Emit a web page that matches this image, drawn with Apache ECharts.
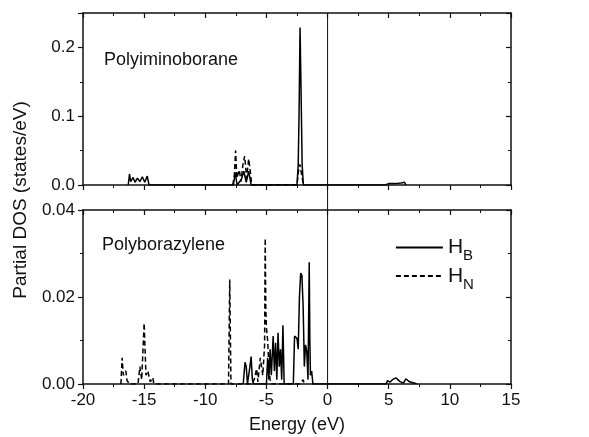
<!DOCTYPE html>
<html>
<head>
<meta charset="utf-8">
<script src="https://cdn.jsdelivr.net/npm/echarts@6/dist/echarts.min.js"></script>
<style>
  html, body { margin: 0; padding: 0; background: #fff; }
  #output { width: 589px; height: 437px; }
</style>
</head>
<body>
<div id="output"></div>
<script>
const chart = echarts.init(document.getElementById('output'));

// energy range (eV) and tick labels
const energyMin = -20
const energyMax = 15
const energyTicks = [-20, -15, -10, -5, 0, 5, 10, 15]

// Polyiminoborane, [energy, DOS]
const topHB = [
  [-16.3, 0], [-16.2, 0.016], [-16.1, 0.005], [-15.9, 0.011], [-15.75, 0.004],
  [-15.55, 0.01], [-15.35, 0.005], [-15.15, 0.012], [-14.95, 0.004], [-14.75, 0.013], [-14.6, 0],
  [-7.7, 0], [-7.55, 0.018], [-7.4, 0], [-7.05, 0.008], [-6.85, 0.02], [-6.65, 0.004],
  [-6.45, 0.02], [-6.25, 0],
  [-2.5, 0], [-2.4, 0.03], [-2.33, 0.105], [-2.25, 0.229], [-2.17, 0.14], [-2.08, 0.03], [-1.98, 0],
  [4.7, 0], [5.0, 0.002], [5.5, 0.002], [6.0, 0.003], [6.3, 0.004], [6.4, 0]
]
const topHN = [
  [-7.75, 0], [-7.62, 0.015], [-7.52, 0.05], [-7.42, 0.01], [-7.22, 0.022], [-7.08, 0.005],
  [-6.92, 0.03], [-6.78, 0.042], [-6.62, 0.01], [-6.45, 0.038], [-6.32, 0.02], [-6.2, 0],
  [-2.5, 0], [-2.38, 0.02], [-2.27, 0.03], [-2.12, 0.015], [-1.98, 0]
]

// Polyborazylene, [energy, DOS]
const botHB = [
  [-6.9, 0], [-6.75, 0.005], [-6.65, 0.004], [-6.55, 0], [-6.35, 0.004], [-6.25, 0.0063],
  [-6.15, 0.001], [-6.05, 0],
  [-5.0, 0], [-4.9, 0.006], [-4.8, 0.001], [-4.7, 0.008], [-4.6, 0.002], [-4.45, 0.011],
  [-4.35, 0.003], [-4.25, 0.0095], [-4.15, 0.001], [-4.05, 0.0118], [-3.95, 0.004],
  [-3.85, 0.008], [-3.75, 0.001], [-3.65, 0.0135], [-3.55, 0],
  [-2.8, 0], [-2.7, 0.011], [-2.5, 0.0105], [-2.4, 0.008], [-2.3, 0.02], [-2.2, 0.0255],
  [-2.1, 0.025], [-2.0, 0.018], [-1.9, 0.004], [-1.8, 0.009], [-1.7, 0.0075], [-1.6, 0.001],
  [-1.5, 0.028], [-1.45, 0.01], [-1.4, 0.002], [-1.3, 0.003], [-1.2, 0],
  [4.8, 0], [4.9, 0.0008], [5.1, 0.0004], [5.3, 0.001], [5.6, 0.0014], [5.9, 0.0006],
  [6.2, 0.0002], [6.4, 0.0012], [6.7, 0.0005], [7.0, 0.0003], [7.3, 0]
]
const botHN = [
  [-16.9, 0], [-16.8, 0.006], [-16.7, 0.002], [-16.5, 0.003], [-16.4, 0.0008], [-16.2, 0],
  [-15.5, 0], [-15.35, 0.004], [-15.2, 0.001], [-15.0, 0.014], [-14.85, 0.002], [-14.7, 0.003],
  [-14.5, 0.0005], [-14.3, 0.0015], [-14.2, 0],
  [-8.1, 0], [-8.0, 0.024], [-7.9, 0],
  [-6.2, 0], [-6.0, 0.001], [-5.8, 0.0035], [-5.7, 0.0005], [-5.5, 0.006], [-5.3, 0.002],
  [-5.15, 0.009], [-5.1, 0.0335], [-5.05, 0.017], [-5.0, 0.013], [-4.9, 0.01], [-4.8, 0.004],
  [-4.7, 0.001], [-4.6, 0],
  [-2.3, 0], [-2.0, 0.001], [-1.9, 0]
]

const font = 'Liberation Sans, Arial, sans-serif'
const ink = '#111'

function xAxis (grid, position, labels) {
  return {
    type: 'value',
    gridIndex: grid,
    position,
    min: energyMin,
    max: energyMax,
    interval: 5,
    axisLine: { onZero: false, lineStyle: { color: ink, width: 1.5 } },
    axisTick: { inside: position === 'top', length: 5, lineStyle: { color: ink, width: 1.2 } },
    minorTick: { show: true, splitNumber: 2, length: 3, lineStyle: { color: ink, width: 1 } },
    splitLine: { show: false },
    axisLabel: {
      show: labels,
      margin: 8,
      color: ink,
      fontFamily: font,
      fontSize: 17,
      formatter: v => energyTicks.includes(v) ? String(v) : ''
    },
    name: labels ? 'Energy (eV)' : '',
    nameLocation: 'middle',
    nameGap: 32,
    nameTextStyle: { color: ink, fontFamily: font, fontSize: 18 }
  }
}

function yAxis (grid, position, max, interval, digits) {
  return {
    type: 'value',
    gridIndex: grid,
    position,
    min: 0,
    max,
    interval,
    axisLine: { show: true, onZero: false, lineStyle: { color: ink, width: 1.5 } },
    axisTick: { show: true, inside: position === 'right', length: 5, lineStyle: { color: ink, width: 1.2 } },
    minorTick: { show: true, splitNumber: 2, length: 3, lineStyle: { color: ink, width: 1 } },
    splitLine: { show: false },
    axisLabel: {
      show: position === 'left',
      showMaxLabel: max === 0.04,
      margin: 8,
      color: ink,
      fontFamily: font,
      fontSize: 17,
      formatter: v => v.toFixed(digits)
    }
  }
}

function series (name, data, x, y, dashed) {
  return {
    name,
    type: 'line',
    data,
    xAxisIndex: x,
    yAxisIndex: y,
    symbol: 'none',
    silent: true,
    lineStyle: { color: '#000', width: 1.5, type: dashed ? [5, 3] : 'solid' },
    itemStyle: { color: '#000', opacity: 0 }
  }
}

chart.setOption({
  animation: false,
  backgroundColor: '#fff',
  title: [
    { text: 'Polyiminoborane', left: 99, top: 46, textStyle: { color: ink, fontFamily: font, fontSize: 18, fontWeight: 'normal' } },
    { text: 'Polyborazylene', left: 97, top: 231, textStyle: { color: ink, fontFamily: font, fontSize: 18, fontWeight: 'normal' } }
  ],
  legend: {
    data: ['HB', 'HN'],
    orient: 'vertical',
    left: 390,
    top: 232,
    itemWidth: 47,
    itemHeight: 14,
    itemGap: 2,
    selectedMode: false,
    itemStyle: { opacity: 0 },
    lineStyle: { width: 1.8 },
    formatter: name => `{h|H}{s|${name.slice(1)}}`,
    textStyle: {
      color: ink,
      rich: {
        h: { fontFamily: font, fontSize: 21, lineHeight: 32, verticalAlign: 'middle', color: ink },
        s: { fontFamily: font, fontSize: 15, lineHeight: 15, verticalAlign: 'bottom', color: ink }
      }
    }
  },
  grid: [
    { left: 83, right: 78, top: 13, height: 172 },
    { left: 83, right: 78, top: 210, height: 174 }
  ],
  xAxis: [
    xAxis(0, 'bottom', false),
    xAxis(0, 'top', false),
    xAxis(1, 'bottom', true),
    xAxis(1, 'top', false)
  ],
  yAxis: [
    yAxis(0, 'left', 0.25, 0.1, 1),
    yAxis(0, 'right', 0.25, 0.1, 1),
    yAxis(1, 'left', 0.04, 0.02, 2),
    yAxis(1, 'right', 0.04, 0.02, 2)
  ],
  series: [
    series('HB', topHB, 0, 0, false),
    series('HN', topHN, 0, 0, true),
    series('HB', botHB, 2, 2, false),
    series('HN', botHN, 2, 2, true)
  ]
})

// Fermi level line through both panels and the gap between them
const zeroTop = chart.convertToPixel({ xAxisIndex: 0, yAxisIndex: 0 }, [0, 0.25])
const zeroBot = chart.convertToPixel({ xAxisIndex: 2, yAxisIndex: 2 }, [0, 0])
chart.setOption({
  graphic: [
    {
      type: 'line',
      silent: true,
      shape: { x1: zeroTop[0], y1: zeroTop[1], x2: zeroBot[0], y2: zeroBot[1] },
      style: { stroke: ink, lineWidth: 1 }
    },
    {
      type: 'text',
      x: 21,
      y: 200,
      rotation: Math.PI / 2,
      style: {
        text: 'Partial DOS (states/eV)',
        fill: ink,
        font: '19px Liberation Sans, Arial, sans-serif',
        align: 'center',
        verticalAlign: 'middle'
      }
    }
  ]
})
</script>
</body>
</html>
